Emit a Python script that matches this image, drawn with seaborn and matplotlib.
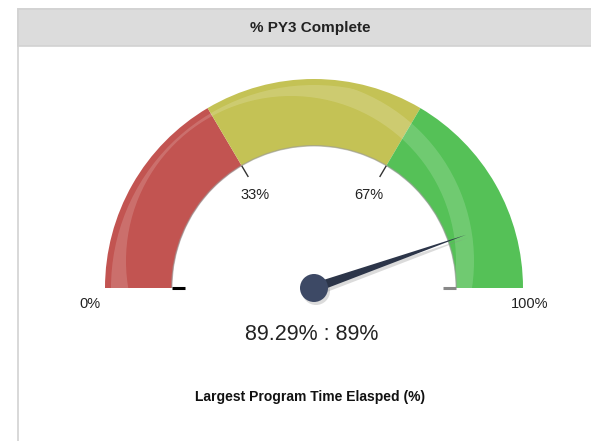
"""Gauge chart: % PY3 Complete"""
import numpy as np
import matplotlib
matplotlib.use("Agg")
import matplotlib.pyplot as plt
from matplotlib.patches import Wedge, Rectangle, Polygon, Circle, Annulus
import seaborn as sns

# Data
band_edges = [0, 33, 67, 100]
tick_values = [0, 33, 67, 100]
tick_labels = ["0%", "33%", "67%", "100%"]
gauge_value = 89.29
value_label = "89.29% : 89%"
chart_title = "% PY3 Complete"
chart_caption = "Largest Program Time Elasped (%)"

sns.set_theme(style="white")
plt.rcParams['font.family'] = ['Liberation Sans', 'DejaVu Sans']
band_colors = sns.color_palette(["#c25451", "#c4c255", "#55c157"])

W, H = 591, 441
fig = plt.figure(figsize=(W / 100, H / 100), dpi=100)
ax = fig.add_axes([0, 0, 1, 1])
ax.set_xlim(0, W)
ax.set_ylim(0, H)
ax.set_aspect('equal')
ax.axis('off')


def py(y):
    # pixel y (top-down) -> axes y
    return H - y


def val2ang(v):
    return 180 - v / 100 * 180


# Panel frame and header
ax.add_patch(Rectangle((18, py(460)), 600, 451, facecolor='white', edgecolor='#d2d2d2', lw=1.2))
ax.add_patch(Rectangle((18, py(46)), 600, 37, facecolor='#dcdcdc', edgecolor='#d2d2d2', lw=1.2))
ax.text(310, py(28), chart_title, ha='center', va='center', fontsize=11, fontweight='bold', color='#222222')

# Gauge geometry
cx, cy = 314, py(288)
r_out, r_in = 209, 142

# Coloured bands
for lo, hi, col in zip(band_edges[:-1], band_edges[1:], band_colors):
    ax.add_patch(Wedge((cx, cy), r_out, val2ang(hi), val2ang(lo), width=r_out - r_in,
                       facecolor=col, edgecolor='none'))

# Gloss ring, clipped to the gauge
clip = Wedge((cx, cy), r_out - 6, 0, 180, width=r_out - 6 - r_in, transform=ax.transData)
gloss = Annulus((cx - 23, py(261)), 183, 18, facecolor='white', edgecolor='none', alpha=0.16)
ax.add_patch(gloss)
gloss.set_clip_path(clip)

# Thin shadow on the inner edge
ax.add_patch(Wedge((cx, cy), r_in + 1, 0, 180, width=1.5, facecolor='#9a9a9a', edgecolor='none', alpha=0.6))

# Ticks and labels
tick_colors = ['black', '#333333', '#333333', '#888888']
for v, lab, tc in zip(tick_values, tick_labels, tick_colors):
    a = np.deg2rad(val2ang(v))
    ca, sa = np.cos(a), np.sin(a)
    lw = 2.2 if v in (0, 100) else 1.0
    ax.plot([cx + r_in * ca, cx + (r_in - 13) * ca], [cy + r_in * sa, cy + (r_in - 13) * sa],
            color=tc, lw=lw, solid_capstyle='butt')
    if v in (0, 100):
        lx = cx + (r_out + 11) * ca - 4
        ly = cy - 16
    else:
        lx = cx + 111 * ca - 2
        ly = cy + 108 * sa
    ax.text(lx, ly, lab, ha='center', va='center', fontsize=10.5, color='#222222')

# Needle
a = np.deg2rad(val2ang(gauge_value))
ux, uy = np.cos(a), np.sin(a)
nx, ny = -uy, ux
L, hw = 161, 4.8
pts = np.array([[cx + hw * nx, cy + hw * ny], [cx + L * ux, cy + L * uy], [cx - hw * nx, cy - hw * ny]])
ax.add_patch(Polygon(pts + [2, -3], closed=True, facecolor='#888888', edgecolor='none', alpha=0.3))
ax.add_patch(Circle((cx + 2, cy - 3), 14, facecolor='#888888', edgecolor='none', alpha=0.3))
ax.add_patch(Polygon(pts, closed=True, facecolor='#2c3549', edgecolor='none'))
ax.add_patch(Circle((cx, cy), 14, facecolor='#3d4965', edgecolor='none'))

# Value and caption
ax.text(312, py(335), value_label, ha='center', va='center', fontsize=15.5, color='#222222')
ax.text(310, py(397), chart_caption, ha='center', va='center', fontsize=10, fontweight='bold', color='#111111')

plt.savefig('out.png', dpi=100)
